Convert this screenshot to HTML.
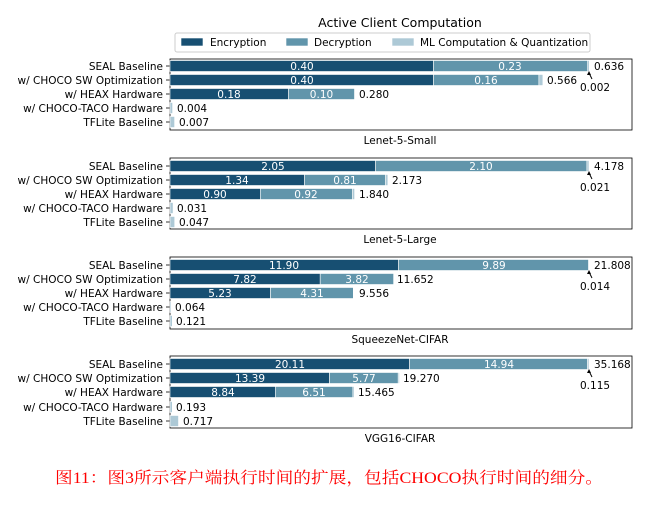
<!DOCTYPE html>
<html><head><meta charset="utf-8"><style>
body{margin:0;background:#fff;width:652px;height:506px;overflow:hidden}
svg{display:block}
text{font-family:"DejaVu Sans","Liberation Sans",sans-serif;font-size:10.5px;fill:#000}
.w{fill:#fff;text-anchor:middle}
.yl{text-anchor:end}
.c{text-anchor:middle}
.e{fill:#174f72}.d{fill:#6195ab}.m{fill:#adc9d6}
rect.e,rect.d,rect.m{stroke:#fff;stroke-width:0.6}
</style></head><body>
<svg width="652" height="506" viewBox="0 0 652 506">
<text x="400" y="27" class="c" style="font-size:12.5px">Active Client Computation</text>
<rect x="175" y="33" width="415" height="19" fill="#fff" stroke="#ccc" rx="2"/>
<rect x="181" y="38" width="22" height="8" class="e"/><text x="210" y="46">Encryption</text>
<rect x="286" y="38" width="22" height="8" class="d"/><text x="314" y="46">Decryption</text>
<rect x="392" y="38" width="22" height="8" class="m"/><text x="420" y="46">ML Computation &amp; Quantization</text>

<g stroke="#000" stroke-width="0.8" fill="none">
<rect x="170" y="59" width="462" height="71"/>
<rect x="170" y="158" width="462" height="71"/>
<rect x="170" y="257" width="462" height="72"/>
<rect x="170" y="356" width="462" height="72"/>
</g>
<g stroke="#000" stroke-width="0.8">
<line x1="166" x2="170" y1="66" y2="66"/><line x1="166" x2="170" y1="80" y2="80"/><line x1="166" x2="170" y1="94" y2="94"/><line x1="166" x2="170" y1="108" y2="108"/><line x1="166" x2="170" y1="122" y2="122"/>
<line x1="166" x2="170" y1="166" y2="166"/><line x1="166" x2="170" y1="180" y2="180"/><line x1="166" x2="170" y1="194" y2="194"/><line x1="166" x2="170" y1="208" y2="208"/><line x1="166" x2="170" y1="222" y2="222"/>
<line x1="166" x2="170" y1="265" y2="265"/><line x1="166" x2="170" y1="279" y2="279"/><line x1="166" x2="170" y1="293" y2="293"/><line x1="166" x2="170" y1="307" y2="307"/><line x1="166" x2="170" y1="321" y2="321"/>
<line x1="166" x2="170" y1="364" y2="364"/><line x1="166" x2="170" y1="378" y2="378"/><line x1="166" x2="170" y1="392" y2="392"/><line x1="166" x2="170" y1="407" y2="407"/><line x1="166" x2="170" y1="421" y2="421"/>
</g>

<!-- Panel 1 -->
<g>
<text x="163" y="70" class="yl">SEAL Baseline</text><text x="163" y="84" class="yl">w/ CHOCO SW Optimization</text><text x="163" y="98" class="yl">w/ HEAX Hardware</text><text x="163" y="112" class="yl">w/ CHOCO-TACO Hardware</text><text x="163" y="126" class="yl">TFLite Baseline</text>
<rect x="170" y="60.5" width="263.5" height="11" class="e"/><rect x="433.5" y="60.5" width="154.2" height="11" class="d"/><rect x="587.7" y="60.5" width="1.5" height="11" class="m"/>
<text x="302" y="70" class="w">0.40</text><text x="510" y="70" class="w">0.23</text><text x="594" y="70">0.636</text>
<rect x="170" y="74.5" width="263.5" height="11" class="e"/><rect x="433.5" y="74.5" width="105.4" height="11" class="d"/><rect x="538.9" y="74.5" width="4" height="11" class="m"/>
<text x="302" y="84" class="w">0.40</text><text x="486" y="84" class="w">0.16</text><text x="547" y="84">0.566</text>
<rect x="170" y="88.5" width="118.6" height="11" class="e"/><rect x="288.6" y="88.5" width="65.9" height="11" class="d"/>
<text x="229" y="98" class="w">0.18</text><text x="321.5" y="98" class="w">0.10</text><text x="359" y="98">0.280</text>
<rect x="170" y="102.5" width="2.6" height="11" class="m"/><text x="177" y="112">0.004</text>
<rect x="170" y="116.5" width="4.6" height="11" class="m"/><text x="179" y="126">0.007</text>
<text x="580" y="91">0.002</text>
<text x="400" y="144" class="c">Lenet-5-Small</text>
</g>
<!-- Panel 2 -->
<g>
<text x="163" y="170" class="yl">SEAL Baseline</text><text x="163" y="184" class="yl">w/ CHOCO SW Optimization</text><text x="163" y="198" class="yl">w/ HEAX Hardware</text><text x="163" y="212" class="yl">w/ CHOCO-TACO Hardware</text><text x="163" y="226" class="yl">TFLite Baseline</text>
<rect x="170" y="160.5" width="205.6" height="11" class="e"/><rect x="375.6" y="160.5" width="211.3" height="11" class="d"/><rect x="586.9" y="160.5" width="2.1" height="11" class="m"/>
<text x="273" y="170" class="w">2.05</text><text x="481" y="170" class="w">2.10</text><text x="594" y="170">4.178</text>
<rect x="170" y="174.5" width="134.4" height="11" class="e"/><rect x="304.4" y="174.5" width="81.2" height="11" class="d"/><rect x="385.6" y="174.5" width="2.3" height="11" class="m"/>
<text x="237" y="184" class="w">1.34</text><text x="345" y="184" class="w">0.81</text><text x="392" y="184">2.173</text>
<rect x="170" y="188.5" width="90.3" height="11" class="e"/><rect x="260.3" y="188.5" width="92.3" height="11" class="d"/><rect x="352.6" y="188.5" width="2" height="11" class="m"/>
<text x="215" y="198" class="w">0.90</text><text x="306" y="198" class="w">0.92</text><text x="359" y="198">1.840</text>
<rect x="170" y="202.5" width="3.1" height="11" class="m"/><text x="177" y="212">0.031</text>
<rect x="170" y="216.5" width="4.7" height="11" class="m"/><text x="179" y="226">0.047</text>
<text x="580" y="191">0.021</text>
<text x="400" y="243" class="c">Lenet-5-Large</text>
</g>
<!-- Panel 3 -->
<g>
<text x="163" y="269" class="yl">SEAL Baseline</text><text x="163" y="283" class="yl">w/ CHOCO SW Optimization</text><text x="163" y="297" class="yl">w/ HEAX Hardware</text><text x="163" y="311" class="yl">w/ CHOCO-TACO Hardware</text><text x="163" y="325" class="yl">TFLite Baseline</text>
<rect x="170" y="259.5" width="228.6" height="11" class="e"/><rect x="398.6" y="259.5" width="190" height="11" class="d"/><rect x="588.6" y="259.5" width="0.6" height="11" class="m"/>
<text x="284" y="269" class="w">11.90</text><text x="494" y="269" class="w">9.89</text><text x="594" y="269">21.808</text>
<rect x="170" y="273.5" width="150.2" height="11" class="e"/><rect x="320.2" y="273.5" width="73.4" height="11" class="d"/>
<text x="245" y="283" class="w">7.82</text><text x="357" y="283" class="w">3.82</text><text x="397" y="283">11.652</text>
<rect x="170" y="287.5" width="100.5" height="11" class="e"/><rect x="270.5" y="287.5" width="82.8" height="11" class="d"/>
<text x="220" y="297" class="w">5.23</text><text x="312" y="297" class="w">4.31</text><text x="359" y="297">9.556</text>
<rect x="170" y="301.5" width="1.2" height="11" class="m"/><text x="175" y="311">0.064</text>
<rect x="170" y="315.5" width="2.3" height="11" class="m"/><text x="176" y="325">0.121</text>
<text x="580" y="290">0.014</text>
<text x="400" y="343" class="c">SqueezeNet-CIFAR</text>
</g>
<!-- Panel 4 -->
<g>
<text x="163" y="368" class="yl">SEAL Baseline</text><text x="163" y="382" class="yl">w/ CHOCO SW Optimization</text><text x="163" y="396" class="yl">w/ HEAX Hardware</text><text x="163" y="411" class="yl">w/ CHOCO-TACO Hardware</text><text x="163" y="425" class="yl">TFLite Baseline</text>
<rect x="170" y="358.5" width="239.6" height="11" class="e"/><rect x="409.6" y="358.5" width="178" height="11" class="d"/><rect x="587.6" y="358.5" width="1.4" height="11" class="m"/>
<text x="290" y="368" class="w">20.11</text><text x="499" y="368" class="w">14.94</text><text x="594" y="368">35.168</text>
<rect x="170" y="372.5" width="159.5" height="11" class="e"/><rect x="329.5" y="372.5" width="68.7" height="11" class="d"/><rect x="398.2" y="372.5" width="1.3" height="11" class="m"/>
<text x="250" y="382" class="w">13.39</text><text x="364" y="382" class="w">5.77</text><text x="403" y="382">19.270</text>
<rect x="170" y="386.5" width="105.3" height="11" class="e"/><rect x="275.3" y="386.5" width="77.6" height="11" class="d"/><rect x="352.9" y="386.5" width="1.4" height="11" class="m"/>
<text x="223" y="396" class="w">8.84</text><text x="314" y="396" class="w">6.51</text><text x="358" y="396">15.465</text>
<rect x="170" y="401.5" width="2.3" height="11" class="m"/><text x="176" y="411">0.193</text>
<rect x="170" y="415.5" width="8.5" height="11" class="m"/><text x="183" y="425">0.717</text>
<text x="580" y="389">0.115</text>
<text x="400" y="442" class="c">VGG16-CIFAR</text>
</g>
<!-- arrows -->
<g fill="#000" stroke="#000" stroke-width="1">
<line x1="592" y1="79" x2="589" y2="73"/><polygon points="589,71 587,75 591,75" stroke="none"/>
<line x1="592" y1="179" x2="589" y2="173"/><polygon points="589,171 587,175 591,175" stroke="none"/>
<line x1="592" y1="278" x2="589" y2="272"/><polygon points="589,270 587,274 591,274" stroke="none"/>
<line x1="592" y1="377" x2="589" y2="371"/><polygon points="589,369 587,373 591,373" stroke="none"/>
</g>
<text x="55" y="483" textLength="548" lengthAdjust="spacingAndGlyphs" style="font-family:'Liberation Serif','Noto Serif CJK SC',serif;font-size:16px;fill:#f00">图11：图3所示客户端执行时间的扩展，包括CHOCO执行时间的细分。</text>
</svg>
</body></html>
